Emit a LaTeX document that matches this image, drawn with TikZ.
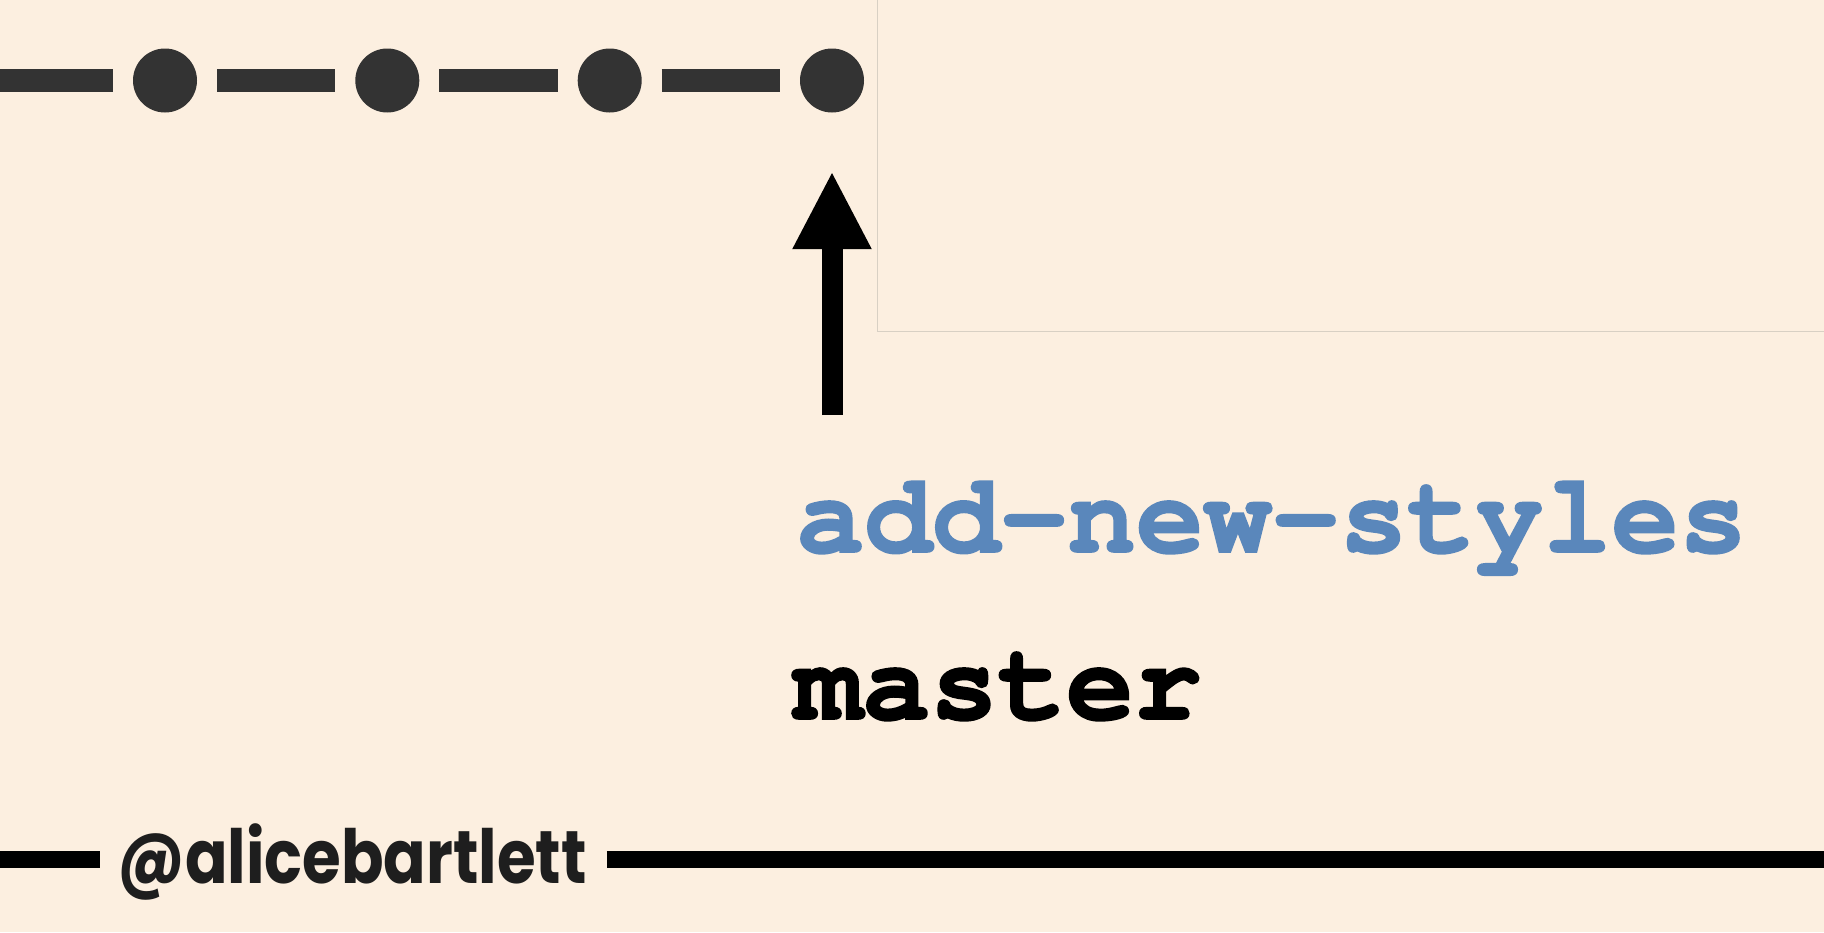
\documentclass[tikz,border=0pt]{standalone}
\usepackage{fontspec}
\usepackage{tikz}
\usetikzlibrary{arrows.meta}
\newfontfamily\codefont{TeX Gyre Cursor}[BoldFeatures={FakeBold=1.6}]
\newfontfamily\handlefont{Poppins}
\definecolor{Paper}{HTML}{FCEFE0}
\definecolor{Branch}{HTML}{5A87BB}
\definecolor{Commit}{HTML}{333333}
\definecolor{Panel}{HTML}{D8D0C4}
\definecolor{Ink}{HTML}{1E1E1E}

\begin{document}
\begin{tikzpicture}[x=0.75pt, y=-0.75pt,
        commit/.style={circle, fill=Commit, minimum size=48pt, inner sep=0pt, outer sep=15pt},
        branchname/.style={anchor=base west, inner sep=0pt, font=\codefont\bfseries\fontsize{84.9pt}{90pt}\selectfont}]
            \fill[Paper] (0, 0) rectangle (1824, 932);
            \useasboundingbox (0, 0) rectangle (1824, 932);
            \draw[Panel, line width=0.75pt] (877, -5) -- (877, 331) -- (1830, 331);
            \foreach \i/\x in {1/165, 2/387.3, 3/609.7, 4/832} {
                \node[commit] (c\i) at (\x, 80.5) {};
            }
            \coordinate (start) at (0, 80.5);
            \draw[Commit, line width=17.25pt] (start) -- (c1) (c1) -- (c2) (c2) -- (c3) (c3) -- (c4);
            \coordinate (tail) at (832, 415);
            \draw[line width=15.75pt, -{Triangle[length=58.5pt, width=55pt]}, shorten >=29pt] (tail) -- (c4);
            \node[branchname, text=Branch] (feature) at (796, 552) {add-new-styles};
            \node[branchname] (master) at (794, 719) {master};
            \node[anchor=base west, inner sep=0pt, text=Ink, font=\handlefont\bfseries\fontsize{56pt}{60pt}\selectfont] (handle) at (117, 883) {\scalebox{0.84}[1]{@alicebartlett}};
            \coordinate (ruleL) at (0, 859.5);
            \coordinate (ruleR) at (1824, 859.5);
            \draw[line width=12.75pt, shorten >=12.75pt] (ruleL) -- (ruleL -| handle.west);
            \draw[line width=12.75pt, shorten <=15pt] (ruleR -| handle.east) -- (ruleR);
        \end{tikzpicture}
\end{document}
